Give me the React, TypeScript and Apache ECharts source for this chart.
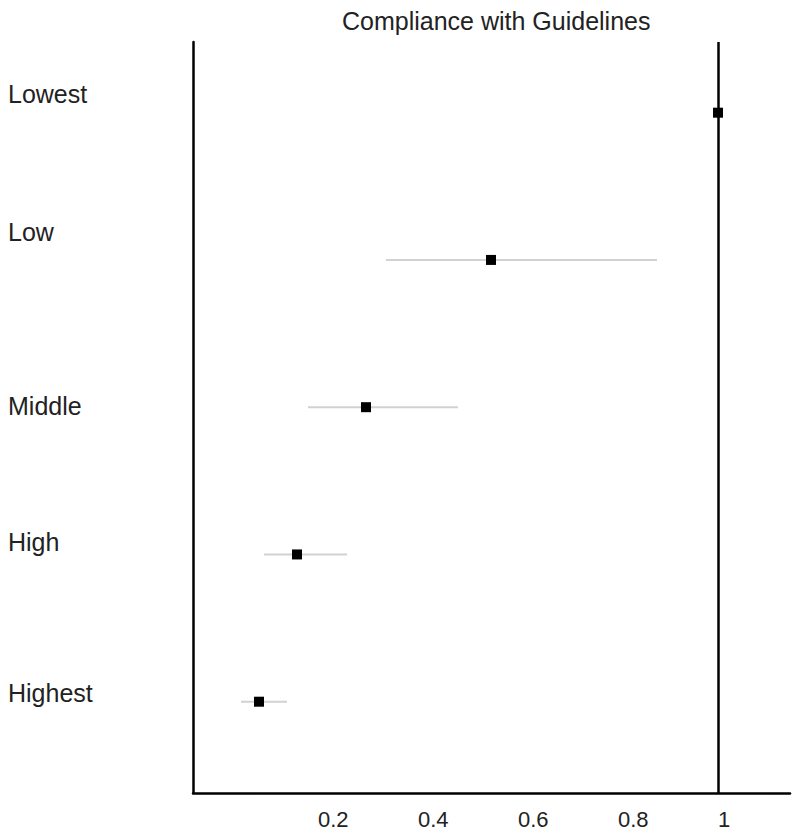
import React, { useEffect, useRef } from "react";
import * as echarts from "echarts";

const categories = ["Lowest", "Low", "Middle", "High", "Highest"];
const estimates = [1, 0.546, 0.296, 0.158, 0.082];
const lowerCI = [null, 0.336, 0.18, 0.092, 0.046];
const upperCI = [null, 0.878, 0.48, 0.258, 0.138];
const xTicks = [0.2, 0.4, 0.6, 0.8, 1];
const referenceValue = 1;
const title = "Compliance with Guidelines";

// per-label vertical shift (style only)
const labelShift = [18.5, 27.5, 1, 12, 9];

export default function App() {
  const ref = useRef<HTMLDivElement>(null);

  useEffect(() => {
    if (!ref.current) return;
    const chart = echarts.init(ref.current, undefined, { renderer: "svg" });

    const font = "'Liberation Sans', Arial, sans-serif";
    const rich: Record<string, any> = {};
    labelShift.forEach((s, i) => {
      rich["r" + i] = {
        fontSize: 25,
        fontFamily: font,
        color: "#222",
        padding: [0, 0, s * 2, 0],
      };
    });

    const ciData = categories
      .map((_, i) => (lowerCI[i] != null ? [lowerCI[i], upperCI[i], i] : null))
      .filter((d) => d !== null);

    chart.setOption({
      animation: false,
      backgroundColor: "#fff",
      title: {
        text: title,
        left: 337,
        top: 3,
        textStyle: {
          fontSize: 25,
          fontWeight: "normal",
          fontFamily: font,
          color: "#222",
        },
      },
      grid: { left: 193, right: 10, top: 42, bottom: 43 },
      xAxis: {
        type: "value",
        min: -0.05,
        max: 1.144,
        axisLine: { show: true, onZero: false, lineStyle: { color: "#000", width: 2.5 } },
        axisTick: { show: false },
        splitLine: { show: false },
        axisLabel: {
          customValues: xTicks,
          formatter: (v: number) => String(Math.round(v * 10) / 10),
          align: "left",
          margin: 15,
          fontSize: 22,
          fontFamily: font,
          color: "#222",
        },
      },
      yAxis: {
        type: "value",
        inverse: true,
        min: -0.48,
        max: 4.62,
        axisLine: { show: true, onZero: false, lineStyle: { color: "#000", width: 2.5 } },
        axisTick: { show: false },
        splitLine: { show: false },
        axisLabel: {
          customValues: categories.map((_, i) => i),
          formatter: (v: number) => {
            const i = Math.round(v);
            return `{r${i}|${categories[i]}}`;
          },
          align: "left",
          margin: 185,
          rich,
        },
      },
      series: [
        {
          type: "custom",
          data: ciData,
          renderItem: (params: any, api: any) => {
            const p1 = api.coord([api.value(0), api.value(2)]);
            const p2 = api.coord([api.value(1), api.value(2)]);
            return {
              type: "line",
              shape: { x1: p1[0], y1: p1[1], x2: p2[0], y2: p2[1] },
              style: { stroke: "#d2d2d2", lineWidth: 2 },
            };
          },
          z: 2,
        },
        {
          type: "scatter",
          data: estimates.map((e, i) => [e, i]),
          symbol: "rect",
          symbolSize: 10,
          itemStyle: { color: "#000", opacity: 1 },
          z: 5,
          markLine: {
            silent: true,
            symbol: "none",
            label: { show: false },
            lineStyle: { color: "#000", width: 2.5, type: "solid", opacity: 1 },
            data: [{ xAxis: referenceValue }],
          },
        },
      ],
    });

    return () => chart.dispose();
  }, []);

  return (
    <div
      ref={ref}
      style={{ position: "fixed", left: 0, top: 0, width: 800, height: 836 }}
    />
  );
}
